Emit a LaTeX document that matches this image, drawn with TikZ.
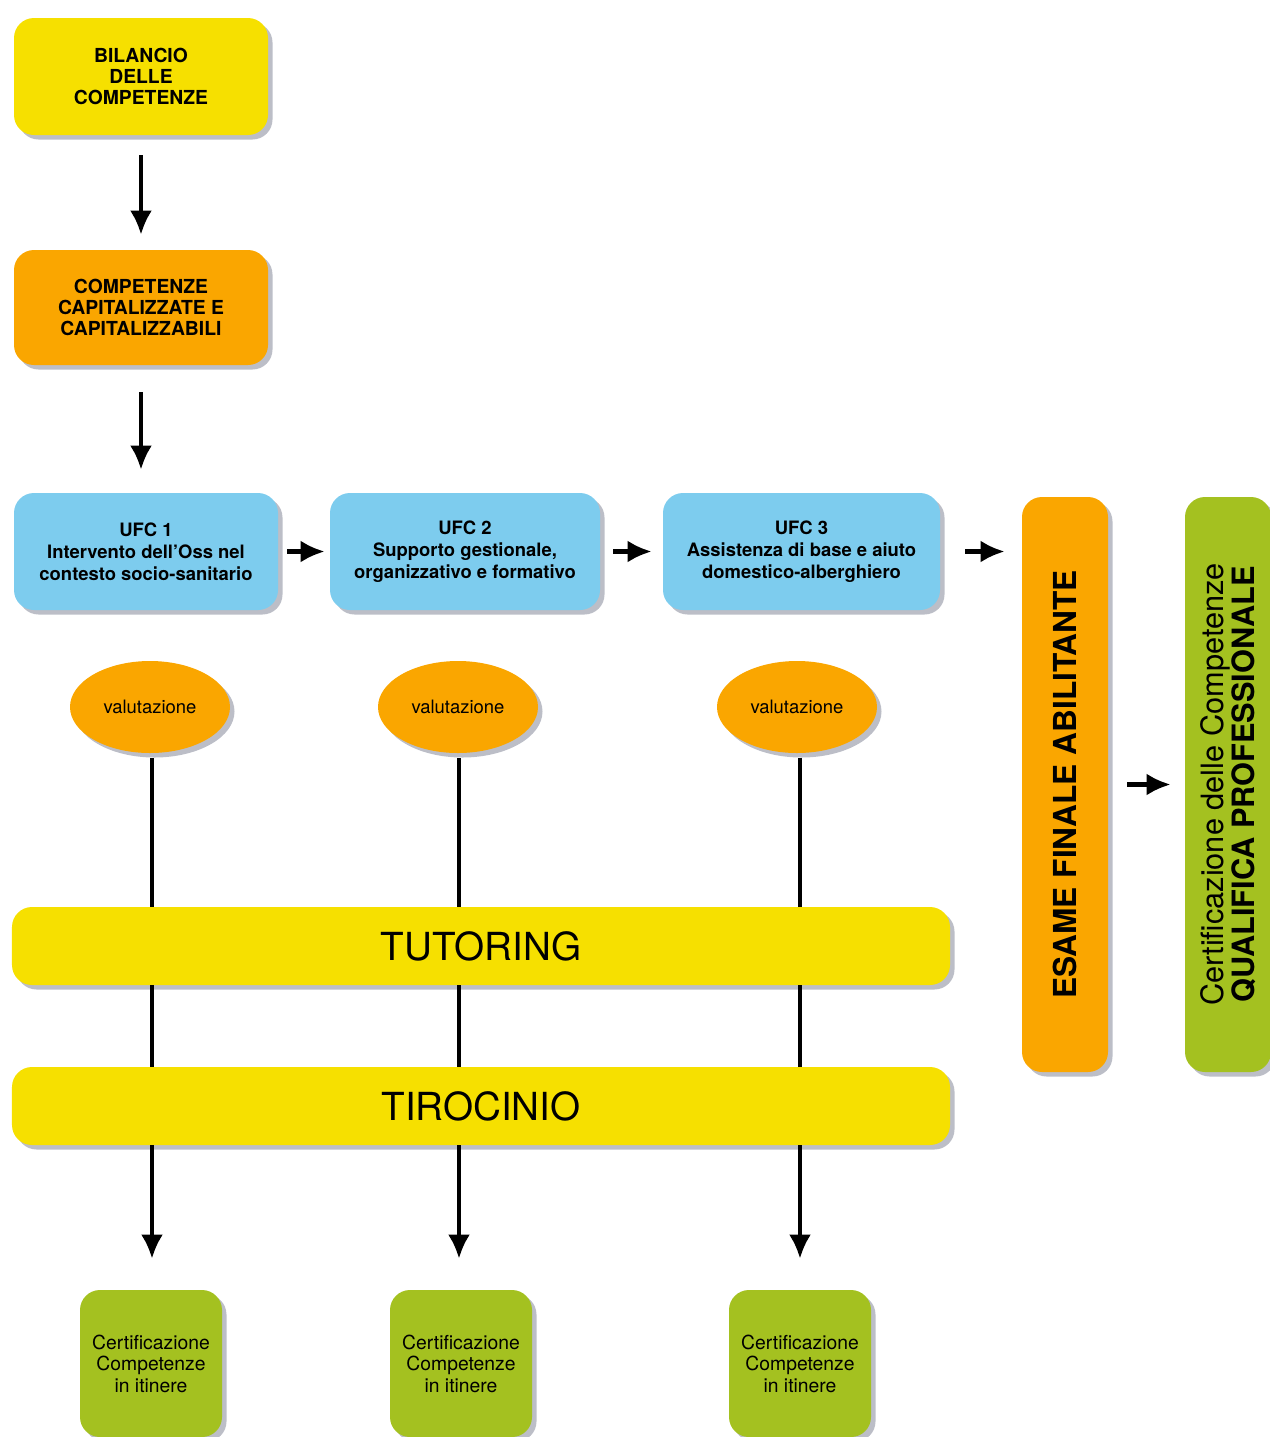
\documentclass[tikz,border=0pt]{standalone}
\usepackage{fontspec}
\setmainfont{TeX Gyre Heros}
\usetikzlibrary{arrows.meta,positioning,shadows,shapes.geometric}
\definecolor{OssYellow}{RGB}{246,224,0}
\definecolor{OssOrange}{RGB}{250,166,0}
\definecolor{OssBlue}{RGB}{125,204,238}
\definecolor{OssGreen}{RGB}{164,193,32}
\definecolor{OssShadow}{RGB}{165,168,180}
\tikzset{
  oss/shadow/.style={
    drop shadow={shadow xshift=0.09cm,shadow yshift=-0.09cm,fill=OssShadow,opacity=0.75}
  },
  oss/box/.style={
    oss/shadow,
    rounded corners=0.4cm,
    align=center,
    text=black,
    inner sep=2pt,
    font=\fontsize{11}{12}\selectfont\bfseries
  },
  oss/ufc/.style={
    oss/box,
    fill=OssBlue,
    minimum height=2.34cm,
    font=\fontsize{10.5}{12.4}\selectfont\bfseries
  },
  oss/bar/.style={
    oss/shadow,
    fill=OssYellow,
    rounded corners=0.4cm,
    minimum width=18.76cm,
    minimum height=1.56cm,
    font=\fontsize{22}{24}\selectfont
  },
  oss/tall/.style={
    oss/box,
    rotate=90,
    minimum width=11.5cm,
    minimum height=1.72cm
  },
  oss/eval/.style={
    oss/shadow,
    ellipse,
    fill=OssOrange,
    minimum width=3.2cm,
    minimum height=1.84cm,
    inner sep=0pt,
    font=\fontsize{10.5}{12}\selectfont
  },
  oss/cert/.style={
    oss/box,
    fill=OssGreen,
    minimum width=2.84cm,
    minimum height=2.94cm,
    font=\fontsize{11}{12.2}\selectfont
  },
  oss/arrow/.style={-{Latex[length=4.8mm,width=4.4mm]}, line width=2.4pt, draw=black},
  oss/line/.style={line width=1.8pt, draw=black}
}

\begin{document}
\begin{tikzpicture}[x=1cm,y=1cm]
  \useasboundingbox (0,0) rectangle (25.4,-28.74);
  % percorso iniziale
  \node[oss/box,fill=OssYellow,minimum width=5.08cm,minimum height=2.34cm] (bil) at (2.82,-1.53) {BILANCIO\\DELLE\\COMPETENZE};
  \node[oss/box,fill=OssOrange,minimum width=5.08cm,minimum height=2.3cm] (comp) at (2.82,-6.15) {COMPETENZE\\CAPITALIZZATE E\\CAPITALIZZABILI};
  \draw[oss/arrow,shorten <=0.4cm,shorten >=0.3cm] (bil) -- (comp);
  % unita formative
  \node[oss/ufc,minimum width=5.28cm] (ufc1) at (2.92,-11.03) {UFC 1\\Intervento dell'Oss nel\\contesto socio-sanitario};
  \node[oss/ufc,minimum width=5.4cm] (ufc2) at (9.3,-11.03) {UFC 2\\Supporto gestionale,\\organizzativo e formativo};
  \node[oss/ufc,minimum width=5.54cm] (ufc3) at (16.03,-11.03) {UFC 3\\Assistenza di base e aiuto\\domestico-alberghiero};
  \draw[oss/arrow,shorten <=0.54cm,shorten >=0.46cm] (comp) -- (comp |- ufc1.north);
  \draw[oss/arrow,shorten <=0.18cm,shorten >=0.1cm] (ufc1) -- (ufc2);
  \draw[oss/arrow,shorten <=0.26cm,shorten >=0.22cm] (ufc2) -- (ufc3);
  % esame e qualifica
  \node[oss/tall,fill=OssOrange,font=\fontsize{18}{18}\selectfont\bfseries] (esame) at (21.3,-15.69) {ESAME FINALE ABILITANTE};
  \node[oss/tall,fill=OssGreen,font=\fontsize{17.5}{15}\selectfont] (qual) at (24.56,-15.69) {Certificazione delle Competenze\\\textbf{QUALIFICA PROFESSIONALE}};
  \draw[oss/arrow,shorten <=0.5cm,shorten >=0.34cm] (ufc3.east) -- (ufc3.east -| esame.north);
  \draw[oss/arrow,shorten <=0.38cm,shorten >=0.28cm] (esame) -- (qual);
  % tutoring e tirocinio
  \node[oss/bar] (tut) at (9.62,-18.92) {TUTORING};
  \node[oss/bar] (tiro) at (9.62,-22.12) {TIROCINIO};
  % valutazione e certificazioni in itinere
  \foreach \i/\ex/\lx/\cx in {1/3.0/3.04/3.02, 2/9.16/9.18/9.22, 3/15.94/16.0/16.0}{
    \node[oss/eval] (val\i) at (\ex,-14.14) {valutazione};
    \node[oss/cert] (cert\i) at (\cx,-27.27) {Certificazione\\Competenze\\in itinere};
    \coordinate (top\i) at (\lx,-15.16);
    \draw[oss/line] (top\i) -- (top\i |- tut.north);
    \draw[oss/line] (top\i |- tut.south) -- (top\i |- tiro.north);
    \draw[oss/arrow,shorten >=0.62cm] (top\i |- tiro.south) -- (top\i |- cert\i.north);
  }
\end{tikzpicture}
\end{document}
